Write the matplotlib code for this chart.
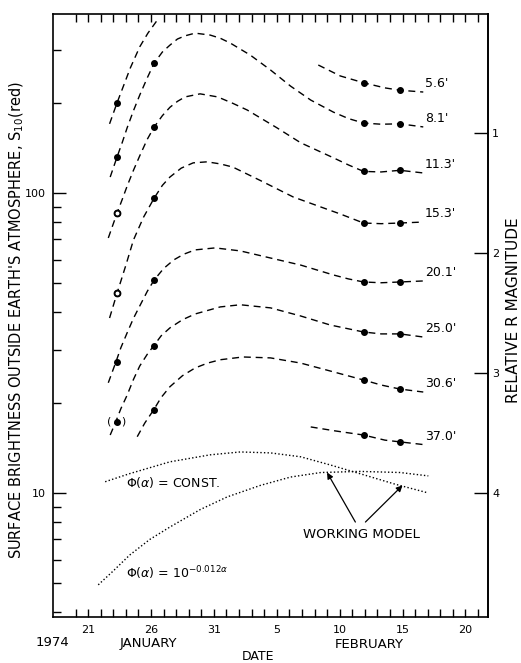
import numpy as np
import matplotlib
matplotlib.use("Agg")
import matplotlib.pyplot as plt
from matplotlib.ticker import FixedLocator, FixedFormatter, NullFormatter, NullLocator

nan = np.nan
plt.rcParams['font.family'] = ['DejaVu Sans']

# Dates are counted in days from 1 January 1974 (Feb 5 = 36)
obs_dates = [23.3, 26.2, 42.9, 45.8]
date_ticks = [21, 26, 31, 36, 41, 46, 51]
date_labels = ["21", "26", "31", "5", "10", "15", "20"]
day_ticks = list(range(20, 53))

apertures = ["5.6'", "8.1'", "11.3'", "15.3'", "20.1'", "25.0'", "30.6'", "37.0'"]

# Measured surface brightness S10(red) for each aperture on the observation dates
obs_5_6 = [200, nan, 233, 220]
obs_8_1 = [132, 271, 171, 170]
obs_11_3 = [85.8, 166, 118, 119]
obs_15_3 = [46.4, 96.2, 79.4, 79.4]
obs_20_1 = [27.3, 51.3, 50.5, 50.5]
obs_25_0 = [17.3, 30.9, 34.4, 33.9]
obs_30_6 = [nan, 18.9, 23.8, 22.2]
obs_37_0 = [nan, nan, 15.6, 14.8]

# Model curves (dashed) for each aperture
model_5_6_days = [22.7, 23.3, 23.8, 24.35, 25.1, 25.75, 26.5, nan,
                  39.3, 41.05, 42.9, 44.6, 45.8, 47.65]
model_5_6_vals = [170, 200, 227, 261, 307, 341, 377, nan,
                  267, 245.5, 233, 224, 220, 217]
model_8_1_days = [22.75, 23.3, 23.7, 24.1, 24.6, 25.1, 25.7, 26.25, 26.9, 27.5, 28.1, 28.7,
                  29.5, 30.7, 31.5, 32.3, 33.9, 35.5, 37.1, 38.7, 40.5, 41.7, 42.9, 44.3,
                  45.8, 47.65]
model_8_1_vals = [113, 132, 147, 165, 188, 212, 242, 271, 295, 311, 326, 334,
                  341, 336, 328, 316, 288, 257, 227, 204, 186, 177, 171, 169.5,
                  170, 166]
model_11_3_days = [22.6, 23.3, 23.7, 24.1, 24.6, 25.1, 25.7, 26.25, 26.9, 27.5, 28.1, 28.7,
                   29.9, 31.3, 32.5, 33.65, 36.0, 37.9, 40.5, 41.7, 42.9, 44.3, 45.8, 47.65]
model_11_3_vals = [70.8, 85.8, 95, 105.5, 119, 133, 151, 166, 181, 193, 202, 209,
                   214, 209, 199, 189, 165, 147, 131, 124, 118, 117.5, 119, 116.6]
model_15_3_days = [22.7, 23.3, 24.0, 24.6, 25.4, 26.25, 26.9, 27.5, 28.4, 29.35, 30.45, 31.5,
                   32.5, 34.7, 37.3, 39.5, 41.05, 42.9, 44.3, 45.8, 47.65]
model_15_3_vals = [38.3, 46.4, 57.5, 69.7, 83, 96.2, 106, 113, 121, 126, 127, 125,
                   122, 110, 97, 89.8, 85.1, 79.4, 79, 79.4, 80]
model_20_1_days = [22.6, 23.2, 23.6, 24.1, 24.6, 25.1, 25.7, 26.25, 27.0, 27.8, 28.6, 29.5,
                   31.1, 33.1, 35.5, 37.9, 40.5, 41.7, 42.9, 44.3, 45.8, 47.65]
model_20_1_vals = [23.3, 27.3, 30.5, 34.2, 38.2, 42.0, 47, 51.3, 56, 59.8, 62.5, 64.6,
                   65.6, 64.1, 60.7, 57.5, 53.3, 51.7, 50.5, 50.2, 50.5, 50.9]
model_25_0_days = [22.75, 23.2, 23.6, 24.1, 24.6, 25.1, 25.7, 26.2, 26.8, 27.5, 28.5, 29.5,
                   31.5, 33.1, 35.5, 37.9, 40.25, 42.9, 44.3, 45.8, 47.65]
model_25_0_vals = [15.6, 17.3, 19.1, 21.2, 23.9, 26.5, 29, 30.9, 33.4, 35.5, 37.8, 39.5,
                   41.7, 42.4, 41.4, 38.9, 36.3, 34.4, 33.9, 33.9, 33.1]
model_30_6_days = [24.9, 25.5, 26.2, 26.8, 27.5, 28.5, 29.5, 30.5, 31.5, 33.3, 35.5, 37.9,
                   40.25, 42.9, 44.3, 45.8, 47.65]
model_30_6_vals = [15.4, 17.1, 18.9, 20.8, 22.6, 24.6, 26.1, 27.1, 27.8, 28.4, 28.2, 27.1,
                   25.5, 23.8, 22.9, 22.2, 21.7]
model_37_0_days = [38.7, 40.65, 42.9, 44.6, 45.8, 47.65]
model_37_0_vals = [16.6, 16.1, 15.6, 15.0, 14.8, 14.5]

# Phase-law curves (dotted)
const_days = [22.35, 24.3, 27.5, 30.7, 33.1, 35.5, 37.9, 40.25, 42.6, 45.4, 48.05]
const_vals = [10.9, 11.6, 12.7, 13.4, 13.7, 13.6, 13.2, 12.4, 11.6, 10.7, 10.0]
expo_days = [21.8, 23.0, 24.3, 25.9, 27.5, 29.9, 32.05, 34.7, 37.1, 39.5, 42.6, 45.8, 48.05]
expo_vals = [4.94, 5.5, 6.21, 7.0, 7.7, 8.8, 9.7, 10.6, 11.3, 11.7, 11.8, 11.7, 11.4]

obs_sets = [obs_5_6, obs_8_1, obs_11_3, obs_15_3, obs_20_1, obs_25_0, obs_30_6, obs_37_0]
model_sets = [
    (model_5_6_days, model_5_6_vals), (model_8_1_days, model_8_1_vals),
    (model_11_3_days, model_11_3_vals), (model_15_3_days, model_15_3_vals),
    (model_20_1_days, model_20_1_vals), (model_25_0_days, model_25_0_vals),
    (model_30_6_days, model_30_6_vals), (model_37_0_days, model_37_0_vals),
]

fig = plt.figure(figsize=(5.21, 6.63), dpi=100)
ax = fig.add_axes([0.1017, 0.0694, 0.835, 0.9095])
ax.set_yscale('log')
ax.set_xlim(18.2, 52.8)
ax.set_ylim(3.86, 395)

for (days, vals), label in zip(model_sets, apertures):
    ax.plot(days, vals, color='k', lw=1.0, dashes=(5, 3.5), solid_joinstyle='round')
    ax.annotate(label, xy=(days[-1], vals[-1]), xytext=(1, 6),
                textcoords='offset points', ha='left', va='center', fontsize=9)

for vals in obs_sets:
    ax.plot(obs_dates, vals, 'o', ms=4, color='k', ls='none')

# two early points drawn as rings
ax.plot([obs_dates[0], obs_dates[0]], [obs_11_3[0], obs_15_3[0]], 'o', ms=4.2,
        mfc='white', mec='k', mew=1.4, ls='none')
# uncertain point in parentheses
ax.text(obs_dates[0], obs_25_0[0], '(   )', ha='center', va='center', fontsize=8)

ax.plot(const_days, const_vals, color='k', lw=1.0, ls=(0, (1, 1.6)))
ax.plot(expo_days, expo_vals, color='k', lw=1.0, ls=(0, (1, 1.6)))

ax.text(24.0, 10.8, r'$\Phi(\alpha)$ = CONST.', fontsize=9, va='center', ha='left')
ax.text(24.0, 5.4, r'$\Phi(\alpha)$ = 10$^{-0.012\alpha}$', fontsize=9, va='center', ha='left')

ax.text(42.7, 7.25, 'WORKING MODEL', fontsize=9.5, ha='center', va='center')
arrow = dict(arrowstyle='-|>', lw=0.9, color='k', mutation_scale=9, shrinkA=0, shrinkB=0)
ax.annotate('', xy=(40.0, 11.7), xytext=(42.25, 8.0), arrowprops=arrow)
ax.annotate('', xy=(46.0, 10.6), xytext=(43.05, 8.0), arrowprops=arrow)

# x axis: daily ticks on both edges
ax.xaxis.set_major_locator(FixedLocator(date_ticks))
ax.xaxis.set_major_formatter(FixedFormatter(date_labels))
ax.xaxis.set_minor_locator(FixedLocator(day_ticks))
ax.tick_params(axis='x', which='both', direction='in', top=True, bottom=True,
               length=6, width=1.0, labelsize=8, pad=6)

# left axis
ax.yaxis.set_major_locator(FixedLocator([10, 100]))
ax.yaxis.set_major_formatter(FixedFormatter(['10', '100']))
ax.yaxis.set_minor_locator(FixedLocator([4, 5, 6, 7, 8, 9, 20, 30, 40, 50, 60, 70, 80, 90, 200, 300]))
ax.yaxis.set_minor_formatter(NullFormatter())
ax.tick_params(axis='y', which='major', direction='in', left=True, right=False,
               length=9, width=1.0, labelsize=8, pad=5)
ax.tick_params(axis='y', which='minor', direction='in', left=True, right=False,
               length=6, width=1.0)

for sp in ax.spines.values():
    sp.set_linewidth(1.2)

# right axis: relative R magnitude
def to_mag(s):
    return 6.5 - 2.5 * np.log10(s)

def from_mag(m):
    return 10 ** ((6.5 - m) / 2.5)

sec = ax.secondary_yaxis('right', functions=(to_mag, from_mag))
sec.yaxis.set_major_locator(FixedLocator([1, 2, 3, 4]))
sec.yaxis.set_major_formatter(FixedFormatter(['1', '2', '3', '4']))
sec.yaxis.set_minor_locator(NullLocator())
sec.tick_params(axis='y', which='major', direction='in', length=10, width=1.0,
                labelsize=8, pad=3)
sec.spines['right'].set_linewidth(1.2)

fig.text(17 / 521, 1 - 320 / 663,
         "SURFACE BRIGHTNESS OUTSIDE EARTH'S ATMOSPHERE, S$_{10}$(red)",
         rotation=90, ha='center', va='center', fontsize=10.5)
fig.text(513 / 521, 1 - 310 / 663, 'RELATIVE R MAGNITUDE',
         rotation=90, ha='center', va='center', fontsize=11)
fig.text(52 / 521, 1 - 643 / 663, '1974', ha='center', va='center', fontsize=9.5)
fig.text(148 / 521, 1 - 643 / 663, 'JANUARY', ha='center', va='center', fontsize=9.5)
fig.text(369 / 521, 1 - 645 / 663, 'FEBRUARY', ha='center', va='center', fontsize=9.5)
fig.text(258 / 521, 1 - 657 / 663, 'DATE', ha='center', va='center', fontsize=9)

fig.savefig('out.png', dpi=100)
